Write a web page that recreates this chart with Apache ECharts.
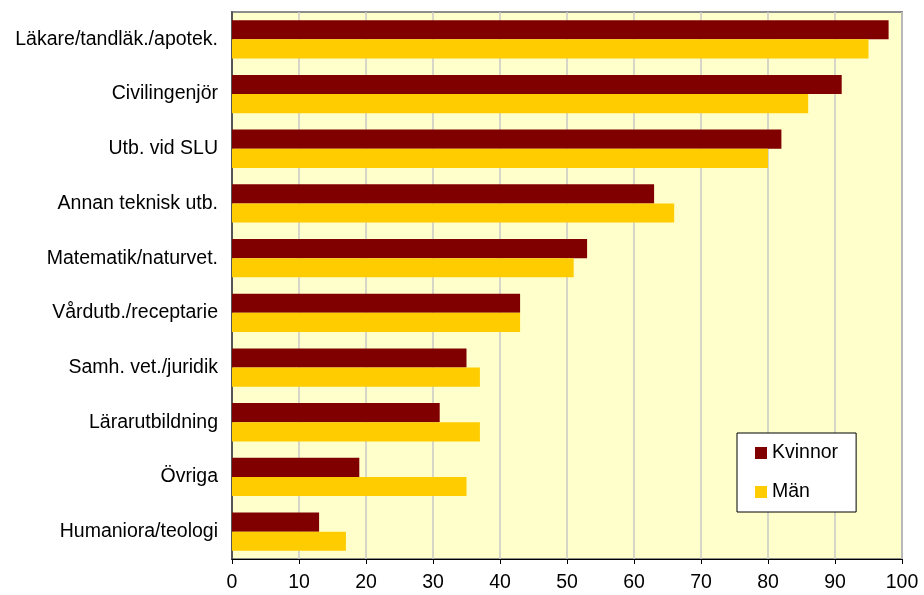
<!DOCTYPE html>
<html><head><meta charset="utf-8">
<script src="https://cdn.jsdelivr.net/npm/echarts@6/dist/echarts.min.js"></script>
<style>html,body{margin:0;padding:0;background:#fff}#c{width:924px;height:595px}</style>
</head><body><div id="c"></div>
<script>
const categories = ["Läkare/tandläk./apotek.","Civilingenjör","Utb. vid SLU","Annan teknisk utb.","Matematik/naturvet.","Vårdutb./receptarie","Samh. vet./juridik","Lärarutbildning","Övriga","Humaniora/teologi"];
const kvinnor = [98, 91, 82, 63, 53, 43, 35, 31, 19, 13];
const man = [95, 86, 80, 66, 51, 43, 37, 37, 35, 17];
const xTicks = [0,10,20,30,40,50,60,70,80,90,100];

const chart = echarts.init(document.getElementById('c'));
const font = 'Liberation Sans, Arial, sans-serif';
chart.setOption({
  animation: false,
  backgroundColor: '#fff',
  grid: {left: 232, right: 22, top: 12, bottom: 36, show: true, backgroundColor: '#FFFFCC', borderColor: '#8c8c8c', borderWidth: 2},
  legend: {
    data: ['Kvinnor','Män'], orient: 'vertical', left: 737, top: 433,
    padding: [10, 18, 10, 18], itemGap: 19,
    backgroundColor: '#fff', borderColor: '#000', borderWidth: 1,
    itemWidth: 12, itemHeight: 12, icon: 'rect',
    textStyle: {fontFamily: font, fontSize: 19.5, color: '#000'}
  },
  xAxis: {
    type: 'value', min: 0, max: 100, interval: 10,
    axisLine: {show: true, lineStyle: {color: '#000', width: 1}},
    axisTick: {show: true, length: 5, lineStyle: {color: '#000'}},
    axisLabel: {fontFamily: font, fontSize: 19.5, color: '#000', margin: 14,
      formatter: v => xTicks.includes(v) ? String(v) : ''},
    splitLine: {show: true, lineStyle: {color: '#c8c8c8', width: 1.5}}
  },
  yAxis: {
    type: 'category', data: categories, inverse: true,
    axisLine: {show: true, lineStyle: {color: '#555', width: 2}},
    axisTick: {show: false},
    axisLabel: {fontFamily: font, fontSize: 19.5, color: '#000', margin: 14}
  },
  series: [
    {name: 'Kvinnor', type: 'bar', data: kvinnor, itemStyle: {color: '#800000'}, barGap: '0%', barCategoryGap: '30%'},
    {name: 'Män', type: 'bar', data: man, itemStyle: {color: '#FFCC00'}, barGap: '0%', barCategoryGap: '30%'}
  ]
});
</script></body></html>
